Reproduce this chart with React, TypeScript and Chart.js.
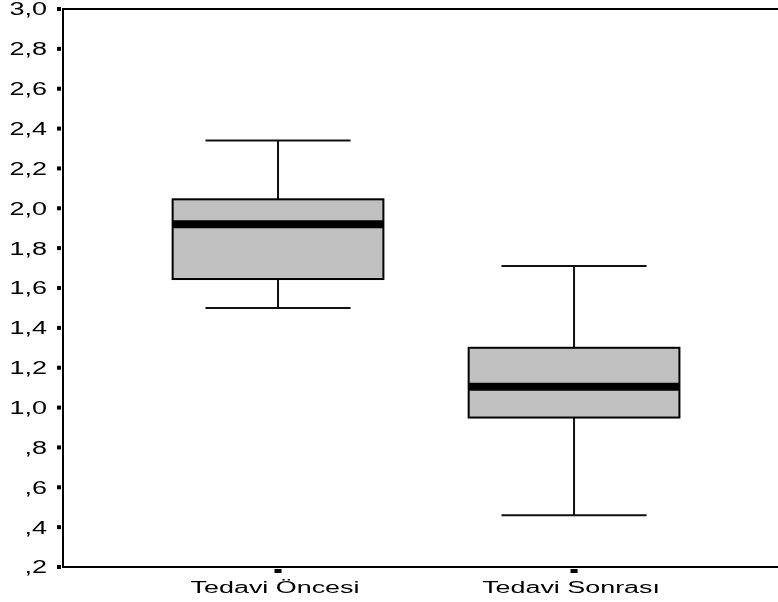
import React, { useEffect, useRef } from "react";
import { Chart, registerables } from "chart.js";

Chart.register(...registerables);

const categories = ["Tedavi Öncesi", "Tedavi Sonrası"];
const whiskerLow = [1.5, 0.46];
const q1 = [1.645, 0.95];
const median = [1.92, 1.105];
const q3 = [2.045, 1.3];
const whiskerHigh = [2.34, 1.71];
const yTickValues = [3.0, 2.8, 2.6, 2.4, 2.2, 2.0, 1.8, 1.6, 1.4, 1.2, 1.0, 0.8, 0.6, 0.4, 0.2];
const yTickLabels = ["3,0", "2,8", "2,6", "2,4", "2,2", "2,0", "1,8", "1,6", "1,4", "1,2", "1,0", ",8", ",6", ",4", ",2"];

const FONT = '"Liberation Sans", Arial, sans-serif';
const Y_STRETCH = 1.5;
const X_STRETCH = 1.68;
const BOX_HALF = 0.356;
const CAP_HALF = 0.245;

const boxPlugin = {
  id: "spssBox",
  afterDatasetsDraw(chart: any) {
    const { ctx, chartArea, scales } = chart;
    const xs = scales.x;
    const ys = scales.y;
    ctx.save();
    ctx.strokeStyle = "#000";
    ctx.lineWidth = 2;
    ctx.beginPath();
    ctx.moveTo(chartArea.right, chartArea.top);
    ctx.lineTo(chartArea.left - 1, chartArea.top);
    ctx.lineTo(chartArea.left - 1, chartArea.bottom);
    ctx.lineTo(chartArea.right, chartArea.bottom);
    ctx.stroke();

    categories.forEach((_, i) => {
      const xv = i + 1;
      const cx = xs.getPixelForValue(xv);
      const bl = xs.getPixelForValue(xv - BOX_HALF);
      const br = xs.getPixelForValue(xv + BOX_HALF);
      const cl = xs.getPixelForValue(xv - CAP_HALF);
      const cr = xs.getPixelForValue(xv + CAP_HALF);
      const yLow = ys.getPixelForValue(whiskerLow[i]);
      const yQ1 = ys.getPixelForValue(q1[i]);
      const yMed = ys.getPixelForValue(median[i]);
      const yQ3 = ys.getPixelForValue(q3[i]);
      const yHigh = ys.getPixelForValue(whiskerHigh[i]);

      ctx.strokeStyle = "#111";
      ctx.lineWidth = 2;
      ctx.beginPath();
      ctx.moveTo(cx, yHigh);
      ctx.lineTo(cx, yQ3);
      ctx.moveTo(cx, yQ1);
      ctx.lineTo(cx, yLow);
      ctx.moveTo(cl, yHigh);
      ctx.lineTo(cr, yHigh);
      ctx.moveTo(cl, yLow);
      ctx.lineTo(cr, yLow);
      ctx.stroke();

      ctx.fillStyle = "#c0c0c0";
      ctx.fillRect(bl, yQ3, br - bl, yQ1 - yQ3);
      ctx.strokeStyle = "#000";
      ctx.lineWidth = 2;
      ctx.strokeRect(bl, yQ3, br - bl, yQ1 - yQ3);

      ctx.lineWidth = 8;
      ctx.beginPath();
      ctx.moveTo(bl, yMed);
      ctx.lineTo(br, yMed);
      ctx.stroke();
    });

    ctx.fillStyle = "#000";
    ctx.font = `18px ${FONT}`;
    ctx.textBaseline = "middle";
    ctx.textAlign = "right";
    yTickValues.forEach((v, i) => {
      const py = ys.getPixelForValue(v);
      ctx.fillRect(chartArea.left - 7, py - 2, 4, 4);
      ctx.save();
      ctx.translate(47, py + 1.5);
      ctx.scale(Y_STRETCH, 1);
      ctx.fillText(yTickLabels[i], 0, 0);
      ctx.restore();
    });

    ctx.font = `16px ${FONT}`;
    ctx.textBaseline = "alphabetic";
    ctx.textAlign = "center";
    categories.forEach((c, i) => {
      const px = xs.getPixelForValue(i + 1);
      ctx.fillRect(px - 3.5, chartArea.bottom + 2, 7, 4);
      ctx.save();
      ctx.translate(px - 3, chartArea.bottom + 26);
      ctx.scale(X_STRETCH, 1);
      ctx.fillText(c, 0, 0);
      ctx.restore();
    });
    ctx.restore();
  },
};

export default function App() {
  const ref = useRef<HTMLCanvasElement>(null);
  useEffect(() => {
    if (!ref.current) return;
    const chart = new Chart(ref.current, {
      type: "scatter",
      data: {
        datasets: [
          {
            data: categories.map((_, i) => ({ x: i + 1, y: median[i] })),
            pointRadius: 0,
            showLine: false,
          },
        ],
      },
      options: {
        animation: false,
        responsive: false,
        events: [],
        layout: { padding: { left: 64, right: 0, top: 9, bottom: 35 } },
        plugins: { legend: { display: false }, tooltip: { enabled: false } },
        scales: {
          x: { type: "linear", min: 0.277, max: 2.689, display: false },
          y: { type: "linear", min: 0.2, max: 3.0, display: false },
        },
      },
      plugins: [boxPlugin],
    });
    return () => chart.destroy();
  }, []);
  return (
    <div style={{ position: "fixed", left: 0, top: 0, width: 778, height: 602, background: "#fff" }}>
      <canvas ref={ref} width={778} height={602} style={{ display: "block" }} />
    </div>
  );
}
